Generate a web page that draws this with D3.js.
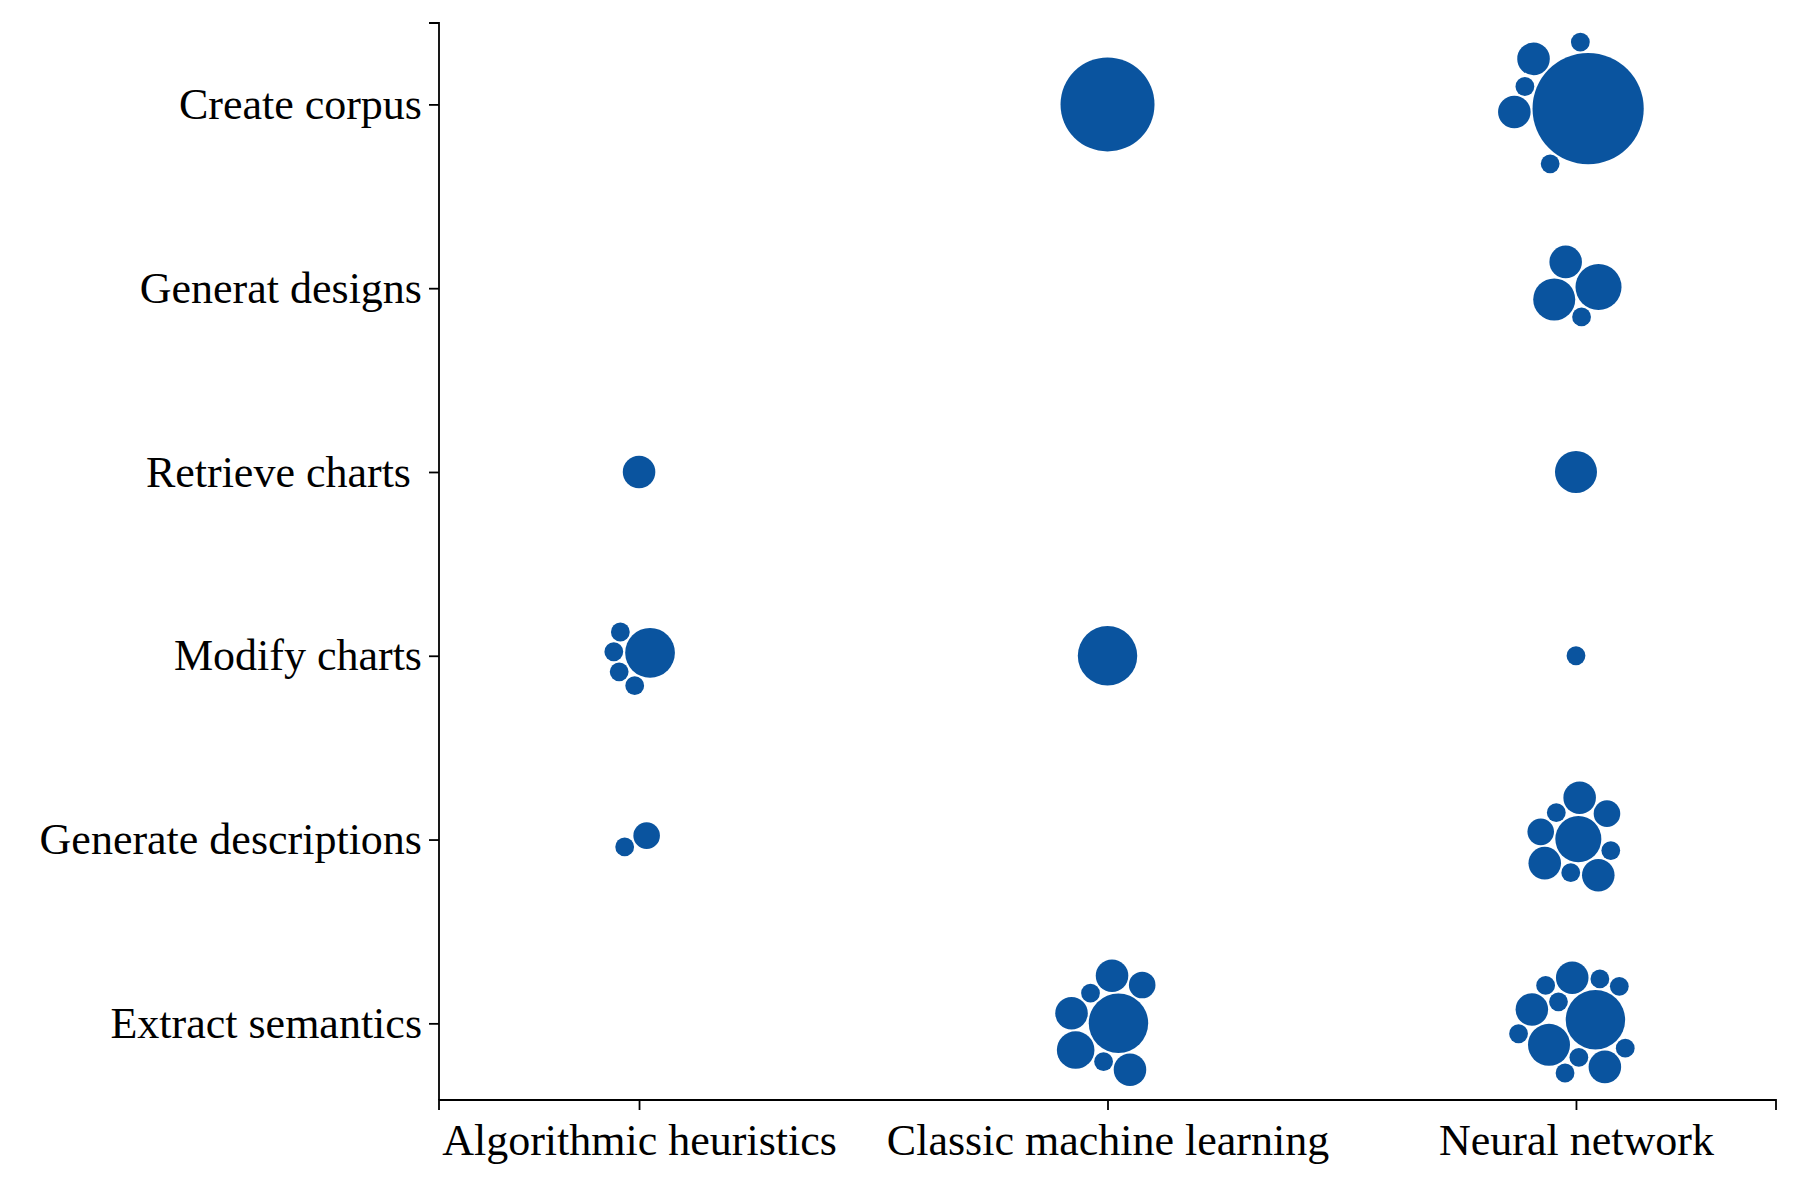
<!DOCTYPE html>
<html>
<head>
<meta charset="utf-8">
<script src="https://cdn.jsdelivr.net/npm/d3@7"></script>
<style>
  html, body { margin: 0; padding: 0; background: #fff; }
  svg { display: block; }
  .tick text { white-space: pre; }
</style>
</head>
<body>
<svg id="chart" width="1800" height="1200"></svg>
<script>
// ---- data ----
const methods = ["Algorithmic heuristics", "Classic machine learning", "Neural network"];
const tasks = ["Create corpus", "Generat designs", "Retrieve charts ", "Modify charts", "Generate descriptions", "Extract semantics"];

// paper sizes per cell (task, method)
const createCorpusClassic = [25];
const createCorpusNeural = [35, 3, 3, 1, 1, 1];
const generatDesignsNeural = [6, 5, 3, 1];
const retrieveChartsAlgo = [3];
const retrieveChartsNeural = [5];
const modifyChartsAlgo = [7, 1, 1, 1, 1];
const modifyChartsClassic = [10];
const modifyChartsNeural = [1];
const generateDescriptionsAlgo = [2, 1];
const generateDescriptionsNeural = [6, 3, 3, 3, 2, 2, 1, 1, 1];
const extractSemanticsClassic = [10, 4, 3, 3, 3, 2, 1, 1];
const extractSemanticsNeural = [10, 5, 3, 3, 3, 1, 1, 1, 1, 1, 1, 1, 1];

const cells = [
  [tasks[0], methods[1], createCorpusClassic],
  [tasks[0], methods[2], createCorpusNeural],
  [tasks[1], methods[2], generatDesignsNeural],
  [tasks[2], methods[0], retrieveChartsAlgo],
  [tasks[2], methods[2], retrieveChartsNeural],
  [tasks[3], methods[0], modifyChartsAlgo],
  [tasks[3], methods[1], modifyChartsClassic],
  [tasks[3], methods[2], modifyChartsNeural],
  [tasks[4], methods[0], generateDescriptionsAlgo],
  [tasks[4], methods[2], generateDescriptionsNeural],
  [tasks[5], methods[1], extractSemanticsClassic],
  [tasks[5], methods[2], extractSemanticsNeural]
];

// ---- layout ----
const svg = d3.select("#chart");
const mLeft = 439, mRight = 1776, mTop = 23, mBottom = 1100;
const fontFamily = "'Liberation Serif', 'Times New Roman', serif";
const fontSize = 44;
const color = "#0a549f";

const x = d3.scalePoint().domain(methods).range([mLeft, mRight]).padding(0.427);
const y = d3.scalePoint().domain(tasks).range([mTop, mBottom]).padding(0.43).align(0.515);
const r = d3.scaleSqrt().domain([0, 35]).range([0, 55.6]);

// nodes
const nodes = [];
cells.forEach(([task, method, vals]) => {
  vals.forEach((v, i) => {
    const tx = x(method), ty = y(task);
    const ang = i * Math.PI * (3 - Math.sqrt(5));
    const rad = 12 * Math.sqrt(i + 0.5);
    nodes.push({ task, method, value: v, r: r(v), tx, ty,
      x: tx + rad * Math.cos(ang), y: ty + rad * Math.sin(ang) });
  });
});

const sim = d3.forceSimulation(nodes)
  .force("x", d3.forceX(d => d.tx).strength(0.08))
  .force("y", d3.forceY(d => d.ty).strength(0.08))
  .force("collide", d3.forceCollide(d => d.r + 1).iterations(4))
  .stop();
for (let i = 0; i < 400; i++) sim.tick();

// circles
svg.append("g")
  .selectAll("circle")
  .data(nodes)
  .join("circle")
  .attr("cx", d => d.x)
  .attr("cy", d => d.y)
  .attr("r", d => d.r)
  .attr("fill", color);

// axes
const gx = svg.append("g")
  .attr("transform", `translate(0,${mBottom})`)
  .call(d3.axisBottom(x).tickSize(10).tickPadding(14));
const gy = svg.append("g")
  .attr("transform", `translate(${mLeft},0)`)
  .call(d3.axisLeft(y).tickSize(10).tickPadding(7));

[gx, gy].forEach(g => {
  g.selectAll("path, line").attr("stroke", "#000").attr("stroke-width", 1.8);
  g.selectAll("text")
    .attr("fill", "#000")
    .style("font-family", fontFamily)
    .style("font-size", fontSize + "px");
});
gy.select(".domain").attr("d", `M${-10},${mTop}H0V${mBottom}`);
gx.select(".domain").attr("d", `M${mLeft},${10}V0H${mRight}V${10}`);
</script>
</body>
</html>
